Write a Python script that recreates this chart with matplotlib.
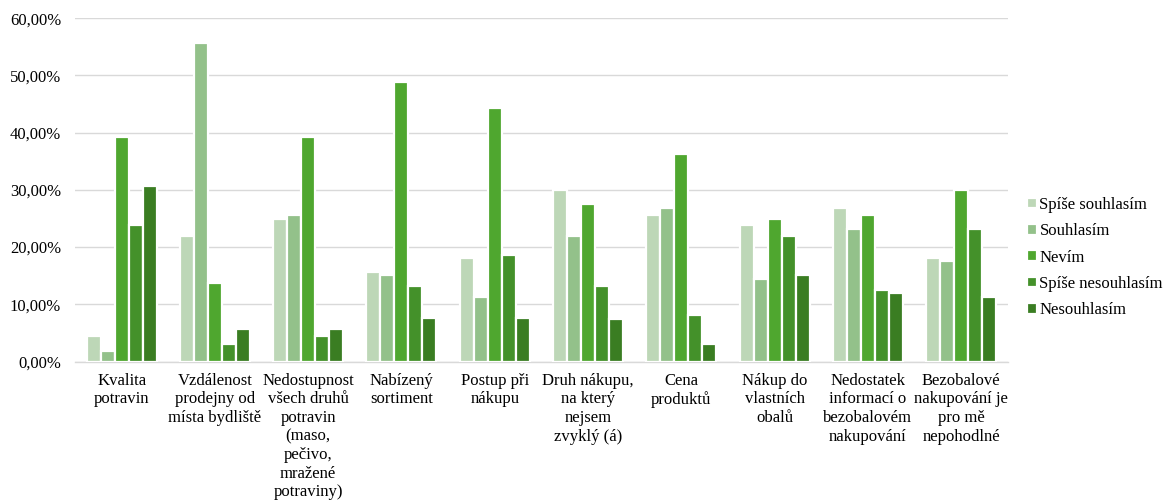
import matplotlib
matplotlib.use("Agg")
import matplotlib.pyplot as plt
import numpy as np
from matplotlib.ticker import FuncFormatter

categories = [
    "Kvalita\npotravin",
    "Vzdálenost\nprodejny od\nmísta bydliště",
    "Nedostupnost\nvšech druhů\npotravin\n(maso,\npečivo,\nmražené\npotraviny)",
    "Nabízený\nsortiment",
    "Postup při\nnákupu",
    "Druh nákupu,\nna který\nnejsem\nzvyklý (á)",
    "Cena\nproduktů",
    "Nákup do\nvlastních\nobalů",
    "Nedostatek\ninformací o\nbezobalovém\nnakupování",
    "Bezobalové\nnakupování je\npro mě\nnepohodlné",
]

series_names = ["Spíše souhlasím", "Souhlasím", "Nevím", "Spíše nesouhlasím", "Nesouhlasím"]

spise_souhlasim = [4.4, 21.9, 25.0, 15.6, 18.1, 30.0, 25.6, 23.8, 26.9, 18.1]
souhlasim = [1.9, 55.6, 25.6, 15.1, 11.3, 21.9, 26.9, 14.4, 23.2, 17.5]
nevim = [39.3, 13.8, 39.3, 48.8, 44.4, 27.5, 36.2, 25.0, 25.6, 30.0]
spise_nesouhlasim = [23.8, 3.1, 4.4, 13.2, 18.7, 13.2, 8.2, 21.9, 12.5, 23.2]
nesouhlasim = [30.7, 5.7, 5.7, 7.6, 7.6, 7.5, 3.1, 15.1, 11.9, 11.3]

series_values = [spise_souhlasim, souhlasim, nevim, spise_nesouhlasim, nesouhlasim]
colors = ["#BDD7B7", "#93C18A", "#4FA72F", "#44912A", "#3A7D22"]

plt.rcParams["font.family"] = ["Liberation Serif", "DejaVu Serif"]
FS = 12

fig = plt.figure(figsize=(11.65, 5.01), dpi=100)
ax = fig.add_axes([0.0644, 0.2784, 0.8006, 0.6851])

x = np.arange(len(categories))
width = 0.15
for i, (name, vals, col) in enumerate(zip(series_names, series_values, colors)):
    offs = (i - 2) * width
    ax.bar(x + offs, np.array(vals) / 100.0, width=width, color=col,
           edgecolor="white", linewidth=1.6, label=name, zorder=3)

ax.set_xlim(-0.5, len(categories) - 0.5)
ax.set_ylim(0, 0.6)
ax.set_yticks(np.arange(0, 0.61, 0.1))
ax.yaxis.set_major_formatter(FuncFormatter(lambda v, p: f"{v*100:.2f}%".replace(".", ",")))
ax.grid(axis="y", color="#D9D9D9", linewidth=1.0, zorder=0)
for s in ["top", "right", "left"]:
    ax.spines[s].set_visible(False)
ax.spines["bottom"].set_color("#D9D9D9")
ax.spines["bottom"].set_linewidth(1.0)
ax.tick_params(axis="both", length=0, labelsize=FS, colors="black")
ax.tick_params(axis="y", pad=10)
ax.tick_params(axis="x", pad=8)
ax.set_xticks(x)
ax.set_xticklabels(categories, linespacing=1.22, ha="center", va="top")

fig.legend(loc="center left", bbox_to_anchor=(0.8755, 0.486), frameon=False,
           fontsize=FS, handlelength=0.62, handleheight=0.62, handletextpad=0.15,
           labelspacing=0.62, borderaxespad=0)

fig.savefig("out.png", dpi=100, facecolor="white")
